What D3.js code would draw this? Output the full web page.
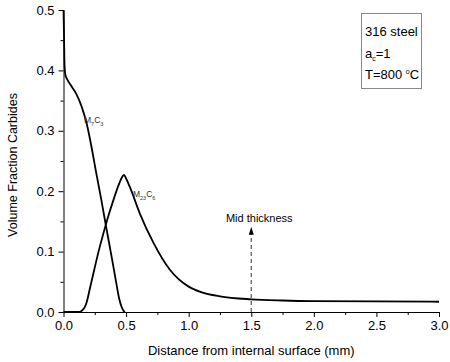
<!DOCTYPE html>
<html>
<head>
<meta charset="utf-8">
<script src="https://cdn.jsdelivr.net/npm/d3@7"></script>
<style>
  body { margin: 0; background: #fff; }
  text { font-family: Arial, "Liberation Sans", sans-serif; }
</style>
</head>
<body>
<div id="chart"></div>
<script>
// Data
const m7c3X = [0, 0.004, 0.008, 0.015, 0.03, 0.06, 0.1, 0.145, 0.185, 0.225, 0.26, 0.30, 0.345, 0.39, 0.42, 0.445, 0.465, 0.48, 0.49];
const m7c3Y = [0.5, 0.46, 0.41, 0.393, 0.385, 0.375, 0.362, 0.34, 0.312, 0.272, 0.232, 0.188, 0.136, 0.085, 0.05, 0.022, 0.008, 0.002, 0];

const m23c6X = [0, 0.13, 0.15, 0.17, 0.185, 0.21, 0.24, 0.28, 0.32, 0.36, 0.40, 0.44, 0.47, 0.483, 0.5, 0.53, 0.61, 0.72, 0.85, 1.0, 1.1, 1.25, 1.5, 1.75, 2.0, 2.5, 3.0];
const m23c6Y = [0, 0, 0.003, 0.008, 0.016, 0.038, 0.065, 0.1, 0.131, 0.16, 0.186, 0.21, 0.224, 0.227, 0.221, 0.207, 0.163, 0.114, 0.07, 0.042, 0.033, 0.026, 0.021, 0.019, 0.018, 0.0175, 0.017];

const xTicks = [0, 0.5, 1.0, 1.5, 2.0, 2.5, 3.0];
const yTicks = [0, 0.1, 0.2, 0.3, 0.4, 0.5];

const width = 450, height = 362;
const margin = {top: 10, right: 11, bottom: 50, left: 63.5};

const svg = d3.select("#chart")
    .append("svg")
    .attr("width", width)
    .attr("height", height);

const x = d3.scaleLinear().domain([0, 3]).range([margin.left, width - margin.right]);
const y = d3.scaleLinear().domain([0, 0.5]).range([height - margin.bottom, margin.top]);

// minor ticks
svg.append("g")
    .attr("transform", `translate(0,${y(0)})`)
    .call(d3.axisBottom(x).tickValues(d3.range(0.25, 3, 0.5)).tickSize(3).tickFormat(""))
    .call(g => g.select(".domain").remove());
svg.append("g")
    .attr("transform", `translate(${x(0)},0)`)
    .call(d3.axisLeft(y).tickValues(d3.range(0.05, 0.5, 0.1)).tickSize(3).tickFormat(""))
    .call(g => g.select(".domain").remove());

// Axes
svg.append("g")
    .attr("transform", `translate(0,${y(0)})`)
    .call(d3.axisBottom(x).tickValues(xTicks).tickSize(5).tickSizeOuter(0).tickPadding(4).tickFormat(d3.format(".1f")))
    .call(g => g.selectAll("text").attr("font-size", 13).attr("fill", "#000").attr("font-family", "Arial, Liberation Sans, sans-serif"));

svg.append("g")
    .attr("transform", `translate(${x(0)},0)`)
    .call(d3.axisLeft(y).tickValues(yTicks).tickSize(5).tickSizeOuter(0).tickPadding(4).tickFormat(d3.format(".1f")))
    .call(g => g.selectAll("text").attr("font-size", 13).attr("fill", "#000").attr("font-family", "Arial, Liberation Sans, sans-serif"));

// Curves
const line = d3.line()
    .x(d => x(d[0]))
    .y(d => y(d[1]))
    .curve(d3.curveMonotoneX);

svg.append("path")
    .datum(d3.zip(m7c3X, m7c3Y))
    .attr("fill", "none")
    .attr("stroke", "#000")
    .attr("stroke-width", 1.8)
    .attr("d", line);

svg.append("path")
    .datum(d3.zip(m23c6X, m23c6Y))
    .attr("fill", "none")
    .attr("stroke", "#000")
    .attr("stroke-width", 1.8)
    .attr("d", line);

// Curve labels with subscripts
function phaseLabel(px, py, base, sub1, mid, sub2) {
    const t = svg.append("text")
        .attr("x", px)
        .attr("y", py)
        .attr("font-size", 8.5)
        .attr("fill", "#333");
    t.append("tspan").text(base);
    t.append("tspan").attr("font-size", 5.5).attr("dy", 3).text(sub1);
    t.append("tspan").attr("dy", -3).text(mid);
    t.append("tspan").attr("font-size", 5.5).attr("dy", 3).text(sub2);
}
phaseLabel(x(0.164), y(0.313), "M", "7", "C", "3");
phaseLabel(x(0.555), y(0.19), "M", "23", "C", "6");

// Mid thickness arrow
const midX = 1.5, arrowTip = 0.141;
svg.append("line")
    .attr("x1", x(midX)).attr("x2", x(midX))
    .attr("y1", y(0)).attr("y2", y(arrowTip) + 6)
    .attr("stroke", "#555")
    .attr("stroke-width", 1.2)
    .attr("stroke-dasharray", "4,3");
svg.append("path")
    .attr("d", `M${x(midX)},${y(arrowTip)} L${x(midX) - 2.5},${y(arrowTip) + 8} L${x(midX) + 2.5},${y(arrowTip) + 8} Z`)
    .attr("fill", "#000");
svg.append("text")
    .attr("x", x(midX) + 8)
    .attr("y", y(arrowTip) - 4.5)
    .attr("text-anchor", "middle")
    .attr("font-size", 11)
    .text("Mid thickness");

// Axis titles
svg.append("text")
    .attr("x", (x(0) + x(3)) / 2)
    .attr("y", 355)
    .attr("text-anchor", "middle")
    .attr("font-size", 13)
    .text("Distance from internal surface (mm)");

svg.append("text")
    .attr("transform", "rotate(-90)")
    .attr("x", -165)
    .attr("y", 17)
    .attr("text-anchor", "middle")
    .attr("font-size", 12.5)
    .text("Volume Fraction Carbides");

// Info box
const box = svg.append("g");
box.append("rect")
    .attr("x", 361.5).attr("y", 13.5)
    .attr("width", 60).attr("height", 75)
    .attr("fill", "#fff")
    .attr("stroke", "#888");
box.append("text").attr("x", 365).attr("y", 36).attr("font-size", 13).text("316 steel");
const ac = box.append("text").attr("x", 365).attr("y", 58).attr("font-size", 13);
ac.append("tspan").text("a");
ac.append("tspan").attr("font-size", 7).attr("dy", 3).text("c");
ac.append("tspan").attr("dy", -3).text("=1");
const tt = box.append("text").attr("x", 365).attr("y", 79).attr("font-size", 13);
tt.append("tspan").text("T=800 ");
tt.append("tspan").attr("font-size", 7).attr("dy", -5).text("o");
tt.append("tspan").attr("dy", 5).text("C");
</script>
</body>
</html>
